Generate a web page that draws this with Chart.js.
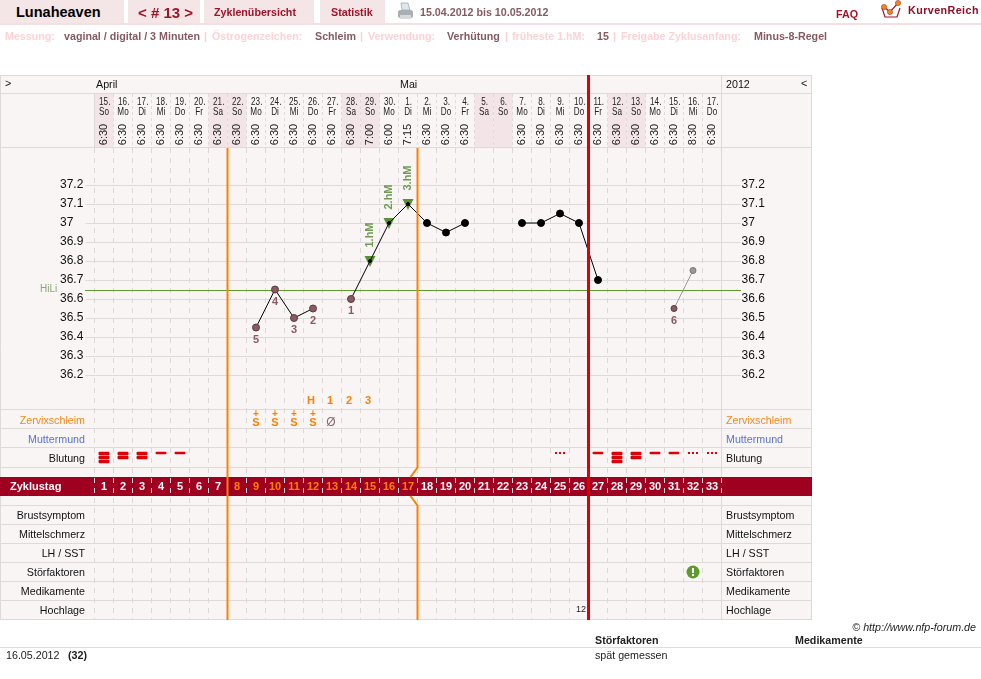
<!DOCTYPE html>
<html lang="de">
<head>
<meta charset="utf-8">
<title>Lunaheaven Zyklus 13</title>
<script src="https://cdn.jsdelivr.net/npm/chart.js@4"></script>
<style>
  html, body { margin: 0; padding: 0; background: #fff; width: 981px; height: 679px; overflow: hidden; }
  body { position: relative; font-family: "Liberation Sans", Arial, sans-serif; }
  canvas#curve { position: absolute; left: 0; top: 0; }
  .t { position: absolute; white-space: nowrap; font-size: 10.7px; line-height: 13px; }
  .b { font-weight: bold; }
  .cell { position: absolute; top: 0; height: 23px; background: #f4e5e7; }
  .rule { position: absolute; left: 0; width: 981px; }
  .head { color: #a01428; font-weight: bold; }
  .soft { color: #fbd3d6; font-weight: bold; }
  .val { color: #865a62; font-weight: bold; }
</style>
</head>
<body>
<canvas id="curve" width="981" height="679"></canvas>

<div class="cell" style="left:0;width:124px"></div>
<div class="cell" style="left:128px;width:72px"></div>
<div class="cell" style="left:204px;width:110px"></div>
<div class="cell" style="left:320px;width:65px"></div>
<div class="rule" style="top:23px;height:2px;background:#f4dfe2"></div>

<span class="t b" style="left:16px;top:4px;font-size:14.5px;line-height:17px;color:#000">Lunaheaven</span>
<span class="t head" style="left:138px;top:4px;font-size:15px;line-height:17px">&lt; # 13 &gt;</span>
<span class="t head" style="left:214px;top:6px">Zyklenübersicht</span>
<span class="t head" style="left:331px;top:6px">Statistik</span>
<svg style="position:absolute;left:397px;top:2px" width="17" height="19" viewBox="0 0 17 19">
  <path d="M4 1h7l2 7H5z" fill="#dfe7ee" stroke="#9aa3aa" stroke-width=".7"/>
  <path d="M1 10q0-2 3-2h9q3 0 3 2v4q0 2-2 2H3q-2 0-2-2z" fill="#a9aeb2"/>
  <rect x="3" y="13" width="11" height="4" fill="#d7dadc"/>
</svg>
<span class="t" style="left:420px;top:6px;color:#865a62;font-weight:bold">15.04.2012 bis 10.05.2012</span>
<span class="t head" style="left:836px;top:8px">FAQ</span>
<svg style="position:absolute;left:880px;top:0" width="26" height="20" viewBox="0 0 26 20">
  <path d="M2 8l3 9h12l3-9" fill="none" stroke="#a01428" stroke-width="1.2"/>
  <path d="M4 7l6 5 8-9" fill="none" stroke="#a01428" stroke-width="1.2"/>
  <circle cx="4" cy="7" r="2.6" fill="#f08a1a" stroke="#a01428" stroke-width=".5"/>
  <circle cx="10" cy="12" r="2.6" fill="#f08a1a" stroke="#a01428" stroke-width=".5"/>
  <circle cx="18" cy="3" r="2.6" fill="#f08a1a" stroke="#a01428" stroke-width=".5"/>
</svg>
<span class="t" style="left:908px;top:4px;color:#8c0e28;font-weight:bold;letter-spacing:.45px">KurvenReich</span>

<span class="t soft" style="left:5px;top:30px">Messung:</span>
<span class="t val" style="left:64px;top:30px">vaginal / digital / 3 Minuten</span>
<span class="t soft" style="left:204px;top:30px">|</span>
<span class="t soft" style="left:212px;top:30px">Östrogenzeichen:</span>
<span class="t val" style="left:315px;top:30px">Schleim</span>
<span class="t soft" style="left:360px;top:30px">|</span>
<span class="t soft" style="left:368px;top:30px">Verwendung:</span>
<span class="t val" style="left:447px;top:30px">Verhütung</span>
<span class="t soft" style="left:505px;top:30px">|</span>
<span class="t soft" style="left:512px;top:30px">früheste 1.hM:</span>
<span class="t val" style="left:597px;top:30px">15</span>
<span class="t soft" style="left:613px;top:30px">|</span>
<span class="t soft" style="left:621px;top:30px">Freigabe Zyklusanfang:</span>
<span class="t val" style="left:754px;top:30px">Minus-8-Regel</span>

<span class="t" style="right:5px;top:621px;font-style:italic;color:#222">© http://www.nfp-forum.de</span>
<span class="t b" style="left:595px;top:634px;color:#222">Störfaktoren</span>
<span class="t b" style="left:795px;top:634px;color:#222">Medikamente</span>
<div class="rule" style="top:647px;height:1px;background:#e0dcdc"></div>
<span class="t" style="left:6px;top:649px;color:#222">16.05.2012</span>
<span class="t b" style="left:68px;top:649px;color:#222">(32)</span>
<span class="t" style="left:595px;top:649px;color:#222">spät gemessen</span>

<script>
// Cycle axis
const cycleDays = ['1','2','3','4','5','6','7','8','9','10','11','12','13','14','15','16','17','18','19','20','21','22','23','24','25','26','27','28','29','30','31','32','33'];
const dateLabels = ['15.','16.','17.','18.','19.','20.','21.','22.','23.','24.','25.','26.','27.','28.','29.','30.','1.','2.','3.','4.','5.','6.','7.','8.','9.','10.','11.','12.','13.','14.','15.','16.','17.'];
const weekdayLabels = ['So','Mo','Di','Mi','Do','Fr','Sa','So','Mo','Di','Mi','Do','Fr','Sa','So','Mo','Di','Mi','Do','Fr','Sa','So','Mo','Di','Mi','Do','Fr','Sa','So','Mo','Di','Mi','Do'];
const measureTimes = ['6:30','6:30','6:30','6:30','6:30','6:30','6:30','6:30','6:30','6:30','6:30','6:30','6:30','6:30','7:00','6:00','7:15','6:30','6:30','6:30','','','6:30','6:30','6:30','6:30','6:30','6:30','6:30','6:30','6:30','8:30','6:30'];

// Basal temperature per cycle day
const temperatures = [null,null,null,null,null,null,null,null,36.45,36.65,36.5,36.55,null,36.6,36.8,37.0,37.1,37.0,36.95,37.0,null,null,37.0,37.0,37.05,37.0,36.7,null,null,null,null,null,null];
const disturbedTemperatures = [null,null,null,null,null,null,null,null,null,null,null,null,null,null,null,null,null,null,null,null,null,null,null,null,null,null,null,null,null,null,36.55,36.75,null];
const lowDays = ['9','10','11','12','14'];
const lowDayNumbers = ['5','4','3','2','1'];
const highMeasureDays = ['15','16','17'];
const highMeasureLabels = ['1.hM','2.hM','3.hM'];
const coverLine = 36.65;
const temperatureTicks = [36.2,36.3,36.4,36.5,36.6,36.7,36.8,36.9,37,37.1,37.2];

// Symptom rows
const bleedingDays = ['1','2','3','4','5','25','27','28','29','30','31','32','33'];
const bleedingLevels = [3,2,2,1,1,0,1,3,2,1,1,0,0];
const mucusDays = ['9','10','11','12'];
const dryMucusDays = ['13'];
const peakDays = ['12','13','14','15'];
const peakLabels = ['H','1','2','3'];
const disturbanceDays = ['32'];
const highPhaseDay = '26';
const highPhaseCount = '12';
const fertileDays = ['8','9','10','11','12','13','14','15','16','17'];
const rowNames = ['Zervixschleim','Muttermund','Blutung','Brustsymptom','Mittelschmerz','LH / SST','Störfaktoren','Medikamente','Hochlage'];
const rowSlots = [0,1,2,5,6,7,8,9,10];
const rowColours = ['#f08a1a','#5a74c8','#111','#111','#111','#111','#111','#111','#111'];

const FONT = '"Liberation Sans", Arial, sans-serif';
const BRAND = '#a00020', ORANGE = '#ff8000', RED = '#dd0008', LINE = '#dedad8', BROWN = '#8a5a62', GREEN = '#5f9a2e', PAPER = '#f9f5f5';

// Small glyph sprites used as point styles in the symptom rows
function sprite(w, h, paint) {
  const c = document.createElement('canvas');
  c.width = w; c.height = h;
  paint(c.getContext('2d'));
  return c;
}
function bars(n) {
  return sprite(12, 14, g => {
    g.fillStyle = RED;
    const tall = n === 1 ? 2.5 : 3.5;
    for (let i = 0; i < n; i++) {
      g.beginPath();
      g.roundRect(.5, .7 + i * 4, 11, tall, 1.2);
      g.fill();
    }
  });
}
const spotting = sprite(12, 14, g => {
  g.fillStyle = RED;
  [1, 5, 9].forEach(x => g.fillRect(x, 1, 2, 2));
});
const bleedingSprites = [spotting, bars(1), bars(2), bars(3)];
const warningSprite = sprite(14, 14, g => {
  g.fillStyle = '#5f9a2e';
  g.beginPath(); g.arc(7, 7, 6.5, 0, Math.PI * 2); g.fill();
  g.fillStyle = '#fff';
  g.fillRect(6, 3, 2, 5);
  g.fillRect(6, 9, 2, 2);
});
const highSprite = sprite(12, 12, g => {
  g.fillStyle = '#5a9030';
  g.beginPath(); g.moveTo(.5, 1); g.lineTo(11.5, 1); g.lineTo(6, 12); g.closePath(); g.fill();
});

const atLowDay = i => lowDays.includes(cycleDays[i]);
const atHighDay = i => highMeasureDays.includes(cycleDays[i]);

// Frame, header row, row labels and the cycle-day band
const tablePlugin = {
  id: 'cycleTable',
  beforeDraw(chart) {
    const { ctx, scales: { x, yRows }, chartArea: a } = chart;
    const boundary = i => x.getPixelForValue(i) - 9.5;
    ctx.save();
    ctx.fillStyle = PAPER;
    ctx.fillRect(0, 75, 812, a.bottom - 75);

    // Weekend shading of the date cells
    ctx.fillStyle = '#f3e5e7';
    weekdayLabels.forEach((d, i) => {
      if (d === 'Sa' || d === 'So') ctx.fillRect(boundary(i), 94, 19, 53);
    });

    // Frame lines
    ctx.strokeStyle = LINE;
    ctx.lineWidth = 1;
    const hline = (y, x0 = 0, x1 = 812) => { ctx.beginPath(); ctx.moveTo(x0, y); ctx.lineTo(x1, y); ctx.stroke(); };
    const vline = (xp, y0, y1) => { ctx.beginPath(); ctx.moveTo(xp, y0); ctx.lineTo(xp, y1); ctx.stroke(); };
    hline(75.5); hline(93.5); hline(147.5);
    vline(.5, 75, a.bottom); vline(811.5, 75, a.bottom);
    vline(721.5, 75, a.bottom);
    vline(94.5, 93, 147);
    ctx.setLineDash([3, 3]);
    for (let i = 1; i < cycleDays.length; i++) vline(boundary(i), 94, 147);
    ctx.setLineDash([]);

    // Horizontal row separators and band
    [-0.5, 0.5, 1.5, 2.5, 4.5, 5.5, 6.5, 7.5, 8.5, 9.5, 10.5].forEach(r => hline(Math.round(yRows.getPixelForValue(r)) - .5));
    ctx.fillStyle = BRAND;
    const t = yRows.getPixelForValue(3), b = yRows.getPixelForValue(4);
    ctx.fillRect(0, t, 812, b - t);
    ctx.restore();
  },
  beforeDatasetsDraw(chart) {
    const { ctx, scales: { x, y, yRows } } = chart;
    const px = d => x.getPixelForValue(cycleDays.indexOf(d));
    ctx.save();
    ctx.textBaseline = 'middle';

    // Month and year headings
    ctx.fillStyle = '#111';
    ctx.font = '10.7px ' + FONT;
    ctx.textAlign = 'left';
    ctx.fillText('April', 96, 85);
    ctx.fillText('Mai', 400, 85);
    ctx.fillText('2012', 726, 85);
    ctx.fillText('>', 5, 84);
    ctx.fillText('<', 801, 84);

    // Date and weekday of each column, in a condensed cut
    ctx.textAlign = 'center';
    ctx.font = '11px ' + FONT;
    ctx.fillStyle = '#222';
    cycleDays.forEach((d, i) => {
      ctx.save();
      ctx.translate(x.getPixelForValue(i), 0);
      ctx.scale(0.74, 1);
      ctx.fillText(dateLabels[i], 1, 102);
      ctx.fillText(weekdayLabels[i], 0, 112);
      ctx.restore();
    });

    // Measuring times, turned upright
    measureTimes.forEach((tm, i) => {
      if (!tm) return;
      ctx.save();
      ctx.translate(x.getPixelForValue(i), 134.5);
      ctx.rotate(-Math.PI / 2);
      ctx.fillText(tm, 0, 0);
      ctx.restore();
    });

    // Row names on both sides
    ctx.font = '10.7px ' + FONT;
    rowNames.forEach((name, i) => {
      const yp = yRows.getPixelForValue(rowSlots[i]) + 1;
      ctx.fillStyle = rowColours[i];
      ctx.textAlign = 'right';
      ctx.fillText(name, 85, yp);
      ctx.textAlign = 'left';
      ctx.fillText(name, 726, yp);
    });

    // Cycle-day band
    const bandY = yRows.getPixelForValue(3.5);
    ctx.textAlign = 'left';
    ctx.fillStyle = '#fff';
    ctx.font = 'bold 11px ' + FONT;
    ctx.fillText('Zyklustag', 10, bandY);
    ctx.textAlign = 'center';
    cycleDays.forEach((d, i) => {
      ctx.fillStyle = fertileDays.includes(d) ? ORANGE : '#fff';
      ctx.fillText(d, x.getPixelForValue(i), bandY);
    });

    // Peak-day counters above the mucus row
    ctx.fillStyle = ORANGE;
    peakDays.forEach((d, i) => ctx.fillText(peakLabels[i], px(d) - 2, yRows.getPixelForValue(-1)));

    // Mucus symbols
    mucusDays.forEach(d => {
      const yp = yRows.getPixelForValue(0), xp = px(d);
      ctx.font = 'bold 10px ' + FONT;
      ctx.fillText('+', xp, yp - 6);
      ctx.font = 'bold 11px ' + FONT;
      ctx.fillText('S', xp, yp + 3);
    });
    ctx.font = '12px ' + FONT;
    ctx.fillStyle = '#8a6a6e';
    dryMucusDays.forEach(d => ctx.fillText('Ø', px(d) - 1, yRows.getPixelForValue(0) + 3));

    // High-phase counter
    ctx.font = '9px ' + FONT;
    ctx.fillStyle = '#222';
    ctx.fillText(highPhaseCount, px(highPhaseDay) + 2, yRows.getPixelForValue(10));

    // Cover line
    ctx.strokeStyle = GREEN;
    ctx.lineWidth = 1;
    const cy = Math.round(y.getPixelForValue(coverLine)) + .5;
    ctx.beginPath(); ctx.moveTo(85, cy); ctx.lineTo(741, cy); ctx.stroke();
    ctx.fillStyle = '#8aa878';
    ctx.font = '10px ' + FONT;
    ctx.textAlign = 'left';
    ctx.fillText('HiLi', 40, cy - 1);
    ctx.restore();
  },
  afterDatasetsDraw(chart) {
    const { ctx, scales: { x, y, yRows }, chartArea: a } = chart;
    const px = d => x.getPixelForValue(cycleDays.indexOf(d));
    const after = d => px(d) + 9.5;
    ctx.save();

    // Phase markers
    const gapTop = yRows.getPixelForValue(2.5), bandTop = yRows.getPixelForValue(3);
    const bandBottom = yRows.getPixelForValue(4), gapBottom = yRows.getPixelForValue(4.5);
    ctx.strokeStyle = ORANGE;
    ctx.lineWidth = 2;
    const x8 = after('7'), x18 = after('17');
    ctx.beginPath(); ctx.moveTo(x8, a.top); ctx.lineTo(x8, a.bottom); ctx.stroke();
    ctx.beginPath();
    ctx.moveTo(x18, a.top); ctx.lineTo(x18, gapTop); ctx.lineTo(x18 - 7, bandTop);
    ctx.moveTo(x18 - 7, bandBottom); ctx.lineTo(x18, gapBottom); ctx.lineTo(x18, a.bottom);
    ctx.stroke();
    ctx.strokeStyle = RED;
    ctx.lineWidth = 3;
    const xr = after('26');
    ctx.beginPath(); ctx.moveTo(xr, 75); ctx.lineTo(xr, a.bottom); ctx.stroke();

    // Day numbers below the low temperatures
    ctx.textAlign = 'center';
    ctx.textBaseline = 'middle';
    ctx.font = 'bold 11px ' + FONT;
    ctx.fillStyle = BROWN;
    lowDays.forEach((d, i) => {
      ctx.fillText(lowDayNumbers[i], px(d), y.getPixelForValue(temperatures[cycleDays.indexOf(d)]) + 12);
    });
    ctx.fillText('6', px('31'), y.getPixelForValue(disturbedTemperatures[30]) + 12);

    // Labels of the higher measurements
    ctx.fillStyle = '#6f9a55';
    highMeasureDays.forEach((d, i) => {
      ctx.save();
      ctx.translate(px(d), y.getPixelForValue(temperatures[cycleDays.indexOf(d)]) - 26);
      ctx.rotate(-Math.PI / 2);
      ctx.fillText(highMeasureLabels[i], 0, 0);
      ctx.restore();
    });
    ctx.restore();
  }
};

new Chart(document.getElementById('curve'), {
  type: 'line',
  plugins: [tablePlugin],
  data: {
    labels: cycleDays,
    datasets: [
      {
        label: 'Temperatur',
        data: temperatures,
        yAxisID: 'y',
        order: 1,
        borderColor: '#000',
        borderWidth: 1,
        tension: 0,
        spanGaps: false,
        pointBackgroundColor: c => atLowDay(c.dataIndex) ? BROWN : '#000',
        pointBorderColor: c => atLowDay(c.dataIndex) ? '#5a3a40' : '#000',
        pointBorderWidth: 1,
        pointRadius: c => atHighDay(c.dataIndex) ? 1.5 : 3.5
      },
      {
        label: 'Höhere Messungen',
        data: temperatures.map((t, i) => atHighDay(i) ? t : null),
        yAxisID: 'y',
        order: 2,
        showLine: false,
        pointRadius: 6,
        pointStyle: highSprite
      },
      {
        label: 'Gestört',
        data: disturbedTemperatures,
        yAxisID: 'y',
        order: 1,
        borderColor: '#999',
        borderWidth: 1,
        tension: 0,
        pointBackgroundColor: c => c.dataIndex === 30 ? BROWN : '#999',
        pointBorderColor: c => c.dataIndex === 30 ? '#5a3a40' : '#777',
        pointBorderWidth: 1,
        pointRadius: 3
      },
      {
        label: 'Blutung',
        data: bleedingDays.map(d => ({ x: d, y: 2 })),
        yAxisID: 'yRows',
        showLine: false,
        pointRadius: 6,
        pointStyle: bleedingLevels.map(l => bleedingSprites[l])
      },
      {
        label: 'Störfaktoren',
        data: disturbanceDays.map(d => ({ x: d, y: 8 })),
        yAxisID: 'yRows',
        showLine: false,
        pointRadius: 6,
        pointStyle: warningSprite
      }
    ]
  },
  options: {
    responsive: false,
    animation: false,
    devicePixelRatio: 1,
    layout: { padding: { left: 60, right: 0, top: 0, bottom: 59 } },
    plugins: { legend: { display: false }, tooltip: { enabled: false } },
    scales: {
      x: {
        position: 'top',
        offset: true,
        afterFit: s => { s.height = 148; },
        border: { display: false, dash: [5, 5] },
        grid: { offset: true, color: '#dcd8d6', drawTicks: false },
        ticks: { display: false }
      },
      y: {
        position: 'left',
        min: 37.2 - 435 / 190,
        max: 37.2 + 37 / 190,
        afterFit: s => { s.width = 34.5; },
        afterBuildTicks: s => { s.ticks = temperatureTicks.map(value => ({ value })); },
        border: { display: false },
        grid: { color: LINE, tickLength: 9, tickColor: LINE },
        ticks: {
          autoSkip: false,
          crossAlign: 'far',
          padding: 2,
          color: '#111',
          font: { family: FONT, size: 12 },
          callback: v => String(v)
        }
      },
      yRight: {
        position: 'right',
        min: 37.2 - 435 / 190,
        max: 37.2 + 37 / 190,
        afterFit: s => { s.width = 259.5; },
        afterBuildTicks: s => { s.ticks = temperatureTicks.map(value => ({ value })); },
        border: { display: false },
        grid: { drawOnChartArea: false, tickLength: 19, tickColor: LINE },
        ticks: {
          autoSkip: false,
          padding: 1,
          color: '#111',
          font: { family: FONT, size: 12 },
          callback: v => String(v)
        }
      },
      // Symptom rows: one unit per table row, row 0 being the mucus row
      yRows: {
        display: false,
        reverse: true,
        min: (148 - 420) / 19,
        max: (620 - 420) / 19
      }
    }
  }
});
</script>
</body>
</html>
